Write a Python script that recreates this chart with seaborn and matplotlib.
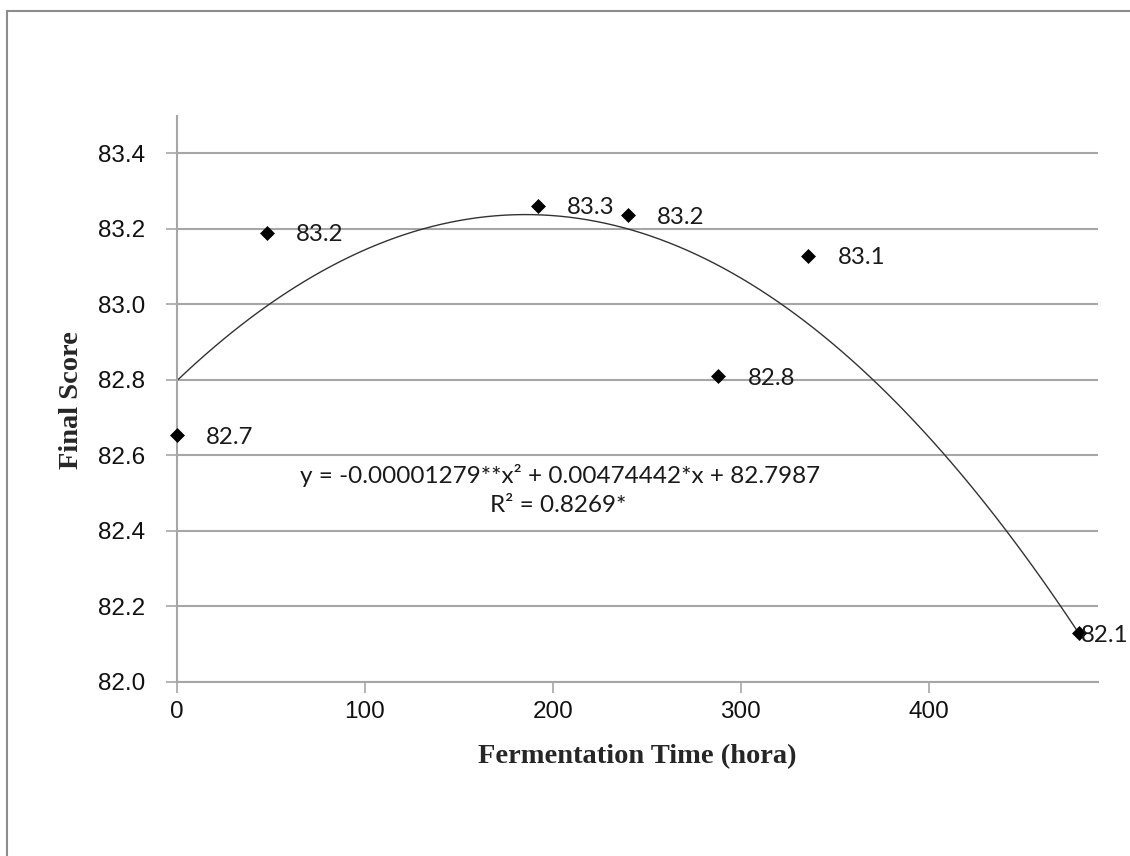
import matplotlib
matplotlib.use("Agg")
import matplotlib.pyplot as plt
from matplotlib.patches import Rectangle
import seaborn as sns
import pandas as pd

# Valores
hours = [0, 48, 192, 240, 288, 336, 480]
scores = [82.654, 83.190, 83.261, 83.237, 82.810, 83.129, 82.129]
point_labels = ["82.7", "83.2", "83.3", "83.2", "82.8", "83.1", "82.1"]
x_ticks = [0, 100, 200, 300, 400]
y_ticks = [82.0, 82.2, 82.4, 82.6, 82.8, 83.0, 83.2, 83.4]
equation = "y = -0.00001279**x² + 0.00474442*x + 82.7987"
r2_text = "R² = 0.8269*"

df = pd.DataFrame({"hours": hours, "score": scores})

sns.set_theme(style="white")
plt.rcParams["font.family"] = ["Liberation Sans", "DejaVu Sans"]

GRID = "#a6a6a6"
LABEL_FONT = ["Lato", "DejaVu Sans"]

fig = plt.figure(figsize=(11.3, 8.56), dpi=100)
ax = fig.add_axes([0.1566, 0.2036, 0.8150, 0.6612])

# moldura externa (cortada à direita e embaixo)
fig.patches.append(Rectangle((7 / 1130, -0.05), 1.2, 1.0377, transform=fig.transFigure,
                             fill=False, edgecolor="#8c8c8c", lw=1.5))

# curva de tendência polinomial (ordem 2)
sns.regplot(data=df, x="hours", y="score", order=2, ci=None, scatter=False,
            truncate=True, line_kws=dict(color="#333333", lw=1.0), ax=ax)

sns.scatterplot(data=df, x="hours", y="score", marker="D", color="black",
                s=58, linewidth=0, ax=ax, zorder=4, clip_on=False)

for i, (x, y, lab) in enumerate(zip(hours, scores, point_labels)):
    dx = 1.5 if i == len(hours) - 1 else 21
    ax.annotate(lab, (x, y), xytext=(dx, -1.5), textcoords="offset points",
                ha="left", va="center", fontsize=17.3, family=LABEL_FONT,
                color="#1a1a1a", zorder=5, annotation_clip=False)

ax.text(0.416, 0.365, equation, transform=ax.transAxes, ha="center", va="center",
        fontsize=17.5, family=LABEL_FONT, color="#1a1a1a")
ax.text(0.414, 0.312, r2_text, transform=ax.transAxes, ha="center", va="center",
        fontsize=17.5, family=LABEL_FONT, color="#1a1a1a")

ax.set_xlim(0, 490)
ax.set_ylim(82.0, 83.5)
ax.set_xticks(x_ticks)
ax.set_xticklabels([str(t) for t in x_ticks])
ax.set_yticks(y_ticks)
ax.set_yticklabels([f"{t:.1f}" for t in y_ticks])

ax.yaxis.grid(True, color=GRID, lw=1.5)
ax.xaxis.grid(False)
ax.set_axisbelow(True)

for side in ["top", "right"]:
    ax.spines[side].set_visible(False)
for side in ["left", "bottom"]:
    ax.spines[side].set_color(GRID)
    ax.spines[side].set_linewidth(1.5)

ax.tick_params(axis="both", bottom=True, left=True, direction="out", length=8,
               width=1.2, color=GRID, labelsize=17.5, labelcolor="#111111")
ax.tick_params(axis="x", pad=6)
ax.tick_params(axis="y", pad=15)

ax.set_xlabel("")
ax.set_ylabel("")
fig.text(637 / 1130, 1 - 757 / 856, "Fermentation Time (hora)", ha="center", va="center",
         fontsize=20.5, fontweight="bold", family=["Liberation Serif", "DejaVu Serif"])
fig.text(72 / 1130, 1 - 400 / 856, "Final Score", ha="center", va="center", rotation=90,
         fontsize=20.5, fontweight="bold", family=["Liberation Serif", "DejaVu Serif"])

fig.savefig("out.png", dpi=100)
